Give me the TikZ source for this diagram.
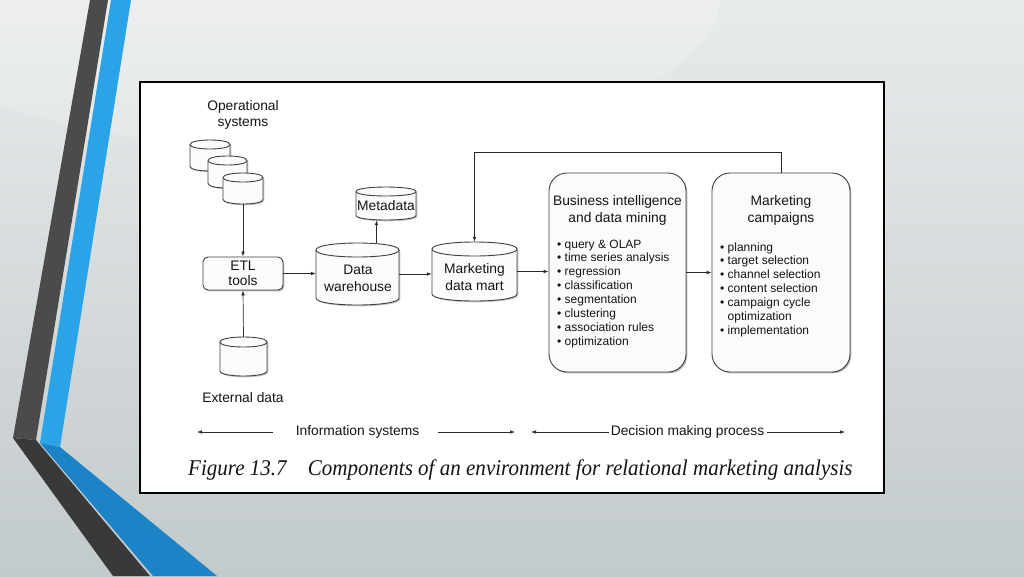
\documentclass[tikz,border=0pt]{standalone}
\usepackage{fontspec}
\setmainfont{Liberation Sans}
\newfontfamily\capfont{Liberation Serif}
\usetikzlibrary{arrows.meta,shadows,calc}

\definecolor{bgtop}{HTML}{E8EBEC}
\definecolor{bgbot}{HTML}{C3CACC}
\definecolor{darkband}{HTML}{4B4B4B}
\definecolor{darkband2}{HTML}{393939}
\definecolor{blueband}{HTML}{2AA4E6}
\definecolor{blueband2}{HTML}{1C84C6}
\definecolor{boxfill}{HTML}{FCFBFA}
\definecolor{boxline}{HTML}{404040}
\definecolor{arrcol}{HTML}{2A2A2A}
\definecolor{txt}{HTML}{141414}

\tikzset{
 boxshape/.style={draw=boxline, fill=boxfill, line width=0.9pt,
   drop shadow={shadow xshift=1.3pt, shadow yshift=-1.3pt, opacity=0.3, fill=black}},
 arr/.style={draw=arrcol, line width=0.7pt, -{Latex[length=5pt,width=3.6pt]}},
 lbl/.style={font=\fontsize{13.8}{17}\selectfont, text=txt, inner sep=0pt, anchor=base},
 bul/.style={font=\fontsize{12}{14}\selectfont, text=txt, inner sep=0pt, anchor=base west},
 botlbl/.style={font=\fontsize{13.8}{16}\selectfont, text=txt, inner sep=0pt, anchor=base},
 cylfill/.style={fill=boxfill, draw=boxline, line width=0.9pt},
 cylshadow/.style={fill=black, opacity=0.22},
 cylnode/.style={draw=none, inner sep=0pt},
}

% name, x1, ytop, x2, ybottom, ry
\newcommand\dbcyl[6]{%
 \pgfmathsetmacro\cyA{#3+#6}%
 \pgfmathsetmacro\cyB{#5-#6}%
 \pgfmathsetmacro\cyK{4/3*#6}%
 \pgfmathsetmacro\cyU{\cyB+\cyK}%
 \pgfmathsetmacro\cyV{\cyA-\cyK}%
 \pgfmathsetmacro\cyW{\cyA+\cyK}%
 \pgfmathsetmacro\cyX{(#2+#4)/2}%
 \pgfmathsetmacro\cyY{(#3+#5)/2}%
 \pgfmathsetmacro\cyWd{#4-#2}%
 \pgfmathsetmacro\cyHt{#5-#3}%
 \begin{scope}[shift={(1.3,1.3)}]
  \fill[cylshadow] (#2,\cyA) -- (#2,\cyB) .. controls (#2,\cyU) and (#4,\cyU) .. (#4,\cyB) -- (#4,\cyA) .. controls (#4,\cyV) and (#2,\cyV) .. (#2,\cyA) -- cycle;
 \end{scope}
 \filldraw[cylfill] (#2,\cyA) -- (#2,\cyB) .. controls (#2,\cyU) and (#4,\cyU) .. (#4,\cyB) -- (#4,\cyA) .. controls (#4,\cyV) and (#2,\cyV) .. (#2,\cyA) -- cycle;
 \draw[cylfill, fill=none] (#2,\cyA) .. controls (#2,\cyW) and (#4,\cyW) .. (#4,\cyA);
 \node[cylnode, minimum width=\cyWd pt, minimum height=\cyHt pt] (#1) at (\cyX,\cyY) {};
}

\begin{document}
\begin{tikzpicture}[x=1pt,y=-1pt]
\useasboundingbox (0,0) rectangle (1024,576);
% background
\shade[top color=bgtop, bottom color=bgbot] (0,0) rectangle (1024,576);
\fill[white, opacity=0.18] (300,0) ellipse [x radius=420, y radius=150];
% decorative bands
\fill[darkband] (90,0) -- (108,0) -- (36,440) -- (13,438) -- cycle;
\fill[darkband2] (13,438) -- (36,440) -- (150,576) -- (113,576) -- cycle;
\fill[blueband] (111,0) -- (131,0) -- (60,447) -- (40,443) -- cycle;
\fill[blueband2] (40,443) -- (60,447) -- (217,576) -- (153,576) -- cycle;

% frame
\draw[line width=2.2pt, fill=white] (140,82) rectangle (884,493);

% operational systems
\node[lbl] (opl1) at (243,110) {Operational};
\node[lbl] (opl2) at (243,126) {systems};
\dbcyl{op1}{190}{140}{230}{171}{4.5}
\dbcyl{op2}{208}{156}{247}{188}{4.5}
\dbcyl{op3}{223}{173}{263}{204}{4.5}

% ETL
\node[boxshape, rounded corners=5pt, minimum width=80pt, minimum height=33pt, inner sep=0pt] (etl) at (243,273.5) {};
\node[lbl] (etlt1) at (243,270) {ETL};
\node[lbl] (etlt2) at (243,285) {tools};

% external data
\dbcyl{ext}{220}{337}{267}{376}{5}
\node[lbl] (extl) at (243,402) {External data};

% metadata
\dbcyl{meta}{356}{187}{416}{220}{4.5}
\node[lbl] (metal) at (386,210) {Metadata};

% data warehouse
\dbcyl{dw}{316}{243}{399}{305}{7}
\node[lbl] (dwt1) at (358,274) {Data};
\node[lbl] (dwt2) at (358,291) {warehouse};

% marketing data mart
\dbcyl{mdm}{432}{242}{517}{301}{7}
\node[lbl] (mdmt1) at (474.5,273) {Marketing};
\node[lbl] (mdmt2) at (474.5,290) {data mart};

% BI box
\node[boxshape, rounded corners=18pt, minimum width=137pt, minimum height=199pt, inner sep=0pt] (bi) at (617.5,272.5) {};
\node[lbl] (bit1) at (617.5,205) {Business intelligence};
\node[lbl] (bit2) at (617.5,222) {and data mining};
\foreach [count=\i from 0] \t in {query \& OLAP, time series analysis, regression, classification, segmentation, clustering, association rules, optimization}
  \node[bul] (bi-\i) at (557,{248+13.86*\i}) {\textbullet\ \t};

% Marketing campaigns box
\node[boxshape, rounded corners=18pt, minimum width=138pt, minimum height=199pt, inner sep=0pt] (mc) at (781,272.5) {};
\node[lbl] (mct1) at (781,205) {Marketing};
\node[lbl] (mct2) at (781,222) {campaigns};
\node[bul] (mc-0) at (720,251) {\textbullet\ planning};
\node[bul] (mc-1) at (720,264.85) {\textbullet\ target selection};
\node[bul] (mc-2) at (720,278.7) {\textbullet\ channel selection};
\node[bul] (mc-3) at (720,292.55) {\textbullet\ content selection};
\node[bul] (mc-4) at (720,306.4) {\textbullet\ campaign cycle};
\node[bul] (mc-5) at (720,320.25) {\phantom{\textbullet\ }optimization};
\node[bul] (mc-6) at (720,334.1) {\textbullet\ implementation};

% connectors
\draw[arr] (op3.south) -- (etl.north);
\draw[arr] (ext.north) -- (etl.south);
\draw[arr] (etl.east) -- (etl.east -| dw.west);
\draw[arr] ([xshift=19pt]dw.north) -- ([xshift=19pt]dw.north |- meta.south);
\draw[arr] (dw.east) -- (dw.east -| mdm.west);
\draw[arr] (mdm.east) -- (mdm.east -| bi.west);
\draw[arr] (bi.east) -- (bi.east -| mc.west);
\coordinate (fb) at (0,152);
\draw[arr] (mc.north) -- (mc.north |- fb) -- (mdm.north |- fb) -- (mdm.north);

% bottom labels
\node[botlbl] (infl) at (357.5,435) {Information systems};
\node[botlbl] (decl) at (687.5,435) {Decision making process};
\coordinate (ia) at (273,432);
\coordinate (ib) at (197,432);
\coordinate (ic) at (438,432);
\coordinate (id) at (515,432);
\coordinate (da) at (609,432);
\coordinate (db) at (531,432);
\coordinate (dc) at (767,432);
\coordinate (dd) at (845,432);
\draw[arr] (ia) -- (ib);
\draw[arr] (ic) -- (id);
\draw[arr] (da) -- (db);
\draw[arr] (dc) -- (dd);

% caption
\node[anchor=base west, inner sep=0pt, text=txt] (cap) at (188,475)
  {\scalebox{0.935}[1]{\capfont\itshape\fontsize{22.5}{24}\selectfont Figure 13.7\quad Components of an environment for relational marketing analysis}};
\end{tikzpicture}
\end{document}
